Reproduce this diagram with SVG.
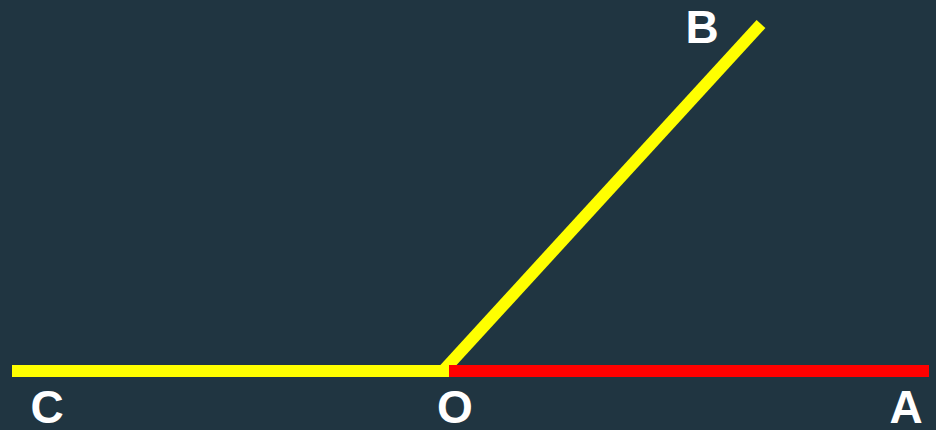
<svg xmlns="http://www.w3.org/2000/svg" width="936" height="430" viewBox="0 0 936 430">
<style>
.lbl{font-family:"Liberation Sans",Arial,sans-serif;font-weight:bold;font-size:46px;fill:#ffffff;text-anchor:middle}
.ln{stroke-width:12;fill:none;stroke-linecap:butt}
</style>
<rect width="936" height="430" fill="#203541"/>
<g id="connectors">
<line class="ln" x1="443" y1="371" x2="761" y2="24" stroke="#ffff00"/>
<line class="ln" x1="12" y1="371" x2="449" y2="371" stroke="#ffff00"/>
<line class="ln" x1="449" y1="371" x2="929" y2="371" stroke="#ff0000"/>
</g>
<g id="C"><text class="lbl" x="47" y="423">C</text></g>
<g id="O"><text class="lbl" x="455" y="423">O</text></g>
<g id="A"><text class="lbl" x="906" y="423">A</text></g>
<g id="B"><text class="lbl" x="702" y="43">B</text></g>
</svg>
